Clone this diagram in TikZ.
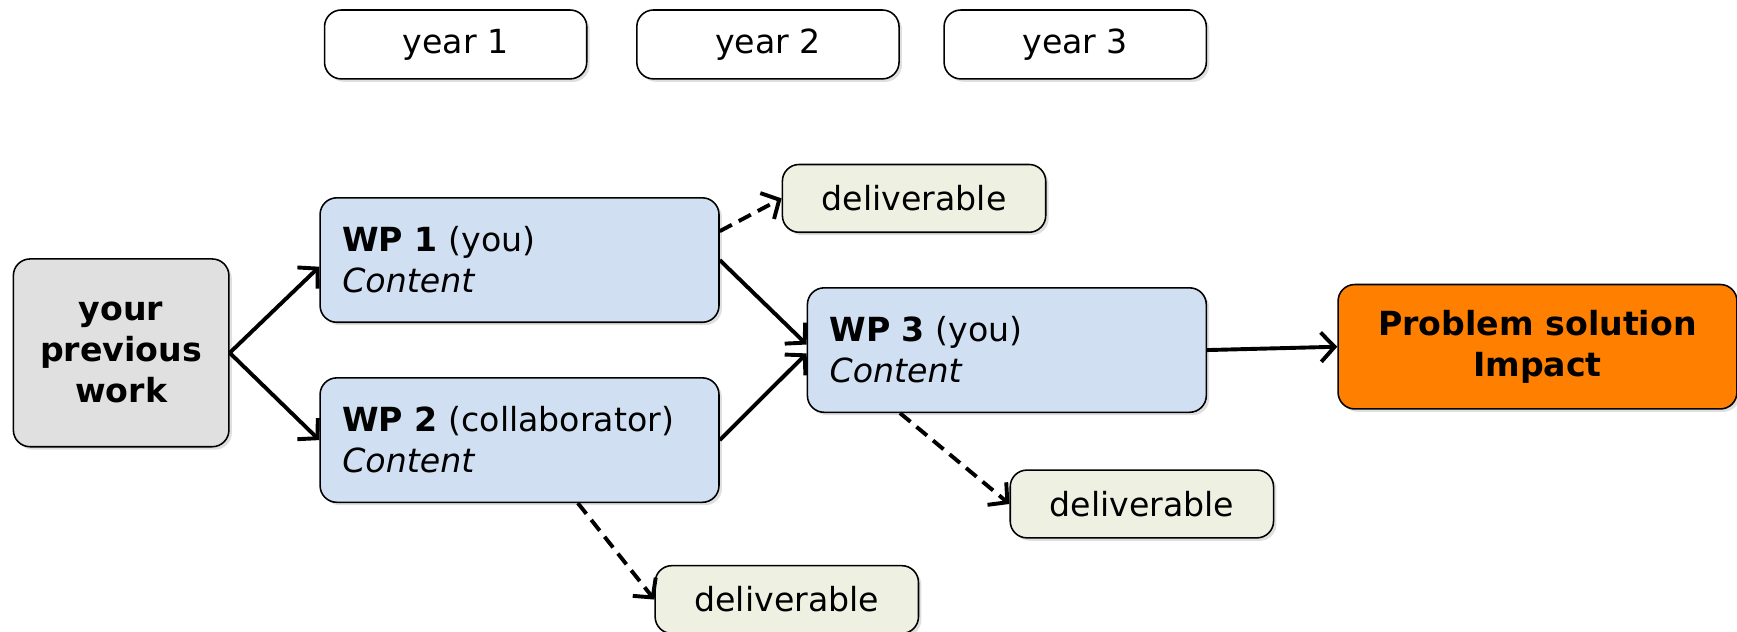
\documentclass[tikz,border=0pt]{standalone}
\usepackage{fontspec}
\setmainfont{DejaVu Sans}
\usetikzlibrary{arrows.meta,shadows}
\definecolor{wpblue}{RGB}{208,224,242}
\definecolor{prevgray}{RGB}{224,224,224}
\definecolor{impactorange}{RGB}{255,127,0}
\definecolor{delivgreen}{RGB}{238,241,226}
\begin{document}
\begin{tikzpicture}
[x=0.02cm,y=-0.02cm,
 every node/.style={draw,line width=0.8pt,rounded corners=0.3cm,font=\fontsize{17}{21}\selectfont,
   drop shadow={shadow xshift=1.5pt,shadow yshift=-1.5pt,opacity=0.25}},
 yearbox/.style={fill=white,minimum width=4.72cm,minimum height=1.24cm},
 wpbox/.style={fill=wpblue,minimum height=2.24cm,text width=6.38cm,inner xsep=0.4cm,align=left},
 delivbox/.style={fill=delivgreen,minimum width=4.74cm,minimum height=1.22cm},
 solidarrow/.style={line width=2pt,-{Straight Barb[length=7pt,width=15pt,line width=2pt]}},
 dasharrow/.style={solidarrow,dash pattern=on 7pt off 4pt}]
\useasboundingbox (0,0) rectangle (1563,568);
\node[yearbox] (y1) at (410,40) {year 1};
\node[yearbox] (y2) at (691,40) {year 2};
\node[yearbox] (y3) at (967.5,40) {year 3};
\node[fill=prevgray,minimum width=3.88cm,minimum height=3.38cm,align=center,font=\fontsize{17}{21}\selectfont\bfseries] (prev) at (109,317.5) {your\\previous\\work};
\node[wpbox] (wpa) at (467.5,234) {\textbf{WP 1} (you)\\\textit{Content}};
\node[wpbox] (wpb) at (467.5,396) {\textbf{WP 2} (collaborator)\\\textit{Content}};
\node[wpbox] (wpc) at (906,315) {\textbf{WP 3} (you)\\\textit{Content}};
\node[fill=impactorange,minimum width=7.18cm,minimum height=2.24cm,align=center,font=\fontsize{17}{21}\selectfont\bfseries] (impact) at (1383.5,312) {Problem solution\\Impact};
\node[delivbox] (da) at (822.5,178.5) {deliverable};
\node[delivbox] (db) at (1027.5,453.5) {deliverable};
\node[delivbox] (dc) at (708,539.5) {deliverable};
% work flow
\draw[solidarrow] (prev.east) -- ([yshift=-0.12cm]wpa.west);
\draw[solidarrow] (prev.east) -- (wpb.west);
\draw[solidarrow] (wpa.east) -- ([yshift=0.1cm]wpc.west);
\draw[solidarrow] (wpb.east) -- ([yshift=-0.06cm]wpc.west);
\draw[solidarrow] (wpc.east) -- (impact.west);
% deliverables
\draw[dasharrow] ([yshift=0.52cm]wpa.east) -- (da.west);
\draw[dasharrow] ([xshift=1.68cm]wpc.south west) -- (db.west);
\draw[dasharrow] ([xshift=1.05cm]wpb.south) -- (dc.west);
\end{tikzpicture}
\end{document}
